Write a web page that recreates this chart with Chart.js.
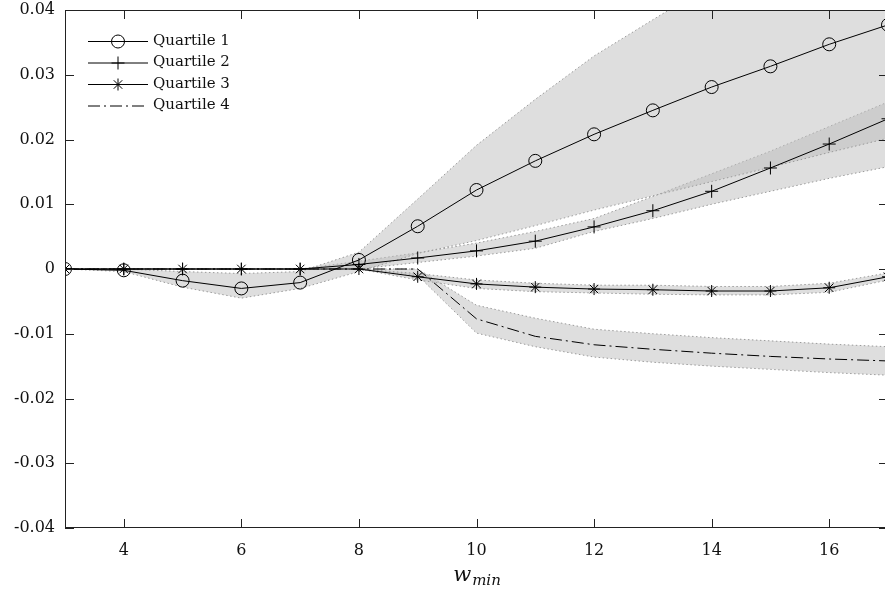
<!DOCTYPE html>
<html>
<head>
<meta charset="utf-8">
<script src="https://cdn.jsdelivr.net/npm/chart.js@4.4.1/dist/chart.umd.min.js"></script>
<style>
  html, body { margin: 0; padding: 0; background: #fff; overflow: hidden; }
</style>
</head>
<body>
<canvas id="c" width="888" height="589"></canvas>
<script>
/* w_min sweep: mean change per quartile with shaded ranges */
var wMin = [3, 4, 5, 6, 7, 8, 9, 10, 11, 12, 13, 14, 15, 16, 17];
var xTicks = [4, 6, 8, 10, 12, 14, 16];
var yTicks = [-0.04, -0.03, -0.02, -0.01, 0, 0.01, 0.02, 0.03, 0.04];
var labels = ["Quartile 1", "Quartile 2", "Quartile 3", "Quartile 4"];

var q1   = [0, -0.0002, -0.0018, -0.0030, -0.0021, 0.0014, 0.0066, 0.0122, 0.0167, 0.0208, 0.0245, 0.0281, 0.0313, 0.0347, 0.0377];
var q1Lo = [0, -0.0004, -0.0028, -0.0045, -0.0030, -0.0004, 0.0024, 0.0044, 0.0067, 0.0091, 0.0113, 0.0135, 0.0157, 0.0180, 0.0202];
var q1Hi = [0, 0, -0.0004, -0.0007, -0.0004, 0.0026, 0.0108, 0.0191, 0.0262, 0.0329, 0.0385, 0.0440, 0.0490, 0.0540, 0.0585];

var q2   = [0, 0, 0, 0, 0, 0.0007, 0.0017, 0.0028, 0.0043, 0.0065, 0.0090, 0.0120, 0.0156, 0.0193, 0.0232];
var q2Lo = [0, 0, 0, 0, 0, 0.0000, 0.0010, 0.0020, 0.0032, 0.0058, 0.0078, 0.0100, 0.0120, 0.0140, 0.0158];
var q2Hi = [0, 0, 0, 0, 0, 0.0012, 0.0025, 0.0040, 0.0058, 0.0078, 0.0112, 0.0147, 0.0182, 0.0220, 0.0258];

var q3   = [0, 0, 0, 0, 0, 0, -0.0012, -0.0023, -0.0028, -0.0031, -0.0032, -0.0034, -0.0034, -0.0029, -0.0012];
var q3Lo = [0, 0, 0, 0, 0, 0, -0.0017, -0.0030, -0.0035, -0.0037, -0.0039, -0.0040, -0.0040, -0.0036, -0.0017];
var q3Hi = [0, 0, 0, 0, 0, 0, -0.0007, -0.0017, -0.0022, -0.0025, -0.0025, -0.0027, -0.0027, -0.0022, -0.0006];

var q4   = [0, 0, 0, 0, 0, 0, 0, -0.0077, -0.0104, -0.0117, -0.0124, -0.0130, -0.0135, -0.0139, -0.0142];
var q4Lo = [0, 0, 0, 0, 0, 0, -0.0010, -0.0099, -0.0120, -0.0136, -0.0144, -0.0150, -0.0155, -0.0160, -0.0164];
var q4Hi = [0, 0, 0, 0, 0, 0, 0.0000, -0.0056, -0.0076, -0.0093, -0.0100, -0.0106, -0.0111, -0.0116, -0.0120];

var serif = "'DejaVu Serif', serif";

function xy(ys) {
  return ys.map(function (v, i) {
    return { x: wMin[i], y: v };
  });
}

function band(lo, hi) {
  var edge = {
    type: "line",
    borderColor: "#9a9a9a",
    borderWidth: 1,
    borderDash: [1.5, 2.5],
    pointRadius: 0,
    tension: 0,
    order: 1
  };
  return [
    Object.assign({}, edge, { data: xy(lo), fill: false }),
    Object.assign({}, edge, { data: xy(hi), fill: "-1", backgroundColor: "rgba(190,190,190,0.5)" })
  ];
}

function series(label, ys, style, radius, dash) {
  return {
    type: "line",
    label: label,
    data: xy(ys),
    borderColor: "#000",
    borderWidth: 1,
    borderDash: dash || [],
    pointStyle: style,
    pointRadius: radius,
    pointBorderColor: "#000",
    pointBackgroundColor: "rgba(0,0,0,0)",
    pointBorderWidth: 1,
    fill: false,
    tension: 0,
    order: 0
  };
}

var lines = [
  series(labels[0], q1, "circle", 6.5),
  series(labels[1], q2, "cross", 6.5),
  series(labels[2], q3, "star", 6),
  series(labels[3], q4, false, 0, [12, 4, 2, 4])
];

var frame = {
  id: "frame",
  afterDraw: function (chart) {
    var ctx = chart.ctx, a = chart.chartArea;
    var xs = chart.scales.x, ys = chart.scales.y;
    ctx.save();
    ctx.strokeStyle = "#222";
    ctx.lineWidth = 1;
    ctx.strokeRect(a.left + 0.5, a.top + 0.5, a.right - a.left - 1, a.bottom - a.top - 1);
    ctx.beginPath();
    xs.ticks.forEach(function (t) {
      var px = Math.round(xs.getPixelForValue(t.value)) + 0.5;
      ctx.moveTo(px, a.bottom); ctx.lineTo(px, a.bottom - 9);
      ctx.moveTo(px, a.top); ctx.lineTo(px, a.top + 9);
    });
    ys.ticks.forEach(function (t) {
      var py = Math.round(ys.getPixelForValue(t.value)) + 0.5;
      ctx.moveTo(a.left, py); ctx.lineTo(a.left + 9, py);
      ctx.moveTo(a.right, py); ctx.lineTo(a.right - 9, py);
    });
    ctx.stroke();

    // legend, top left inside the frame
    var lx = a.left + 23, ly = a.top + 31, step = 21.5;
    lines.forEach(function (ds, i) {
      var y = ly + i * step;
      ctx.strokeStyle = "#000";
      ctx.setLineDash(ds.borderDash);
      ctx.beginPath();
      ctx.moveTo(lx, y + 0.5); ctx.lineTo(lx + 60, y + 0.5);
      ctx.stroke();
      ctx.setLineDash([]);
      if (ds.pointStyle) {
        ctx.fillStyle = "rgba(0,0,0,0)";
        Chart.helpers.drawPoint(ctx, {
          pointStyle: ds.pointStyle, radius: ds.pointRadius, rotation: 0, borderWidth: 1
        }, lx + 30, y + 0.5);
      }
      ctx.fillStyle = "#111";
      ctx.font = "15px " + serif;
      ctx.textBaseline = "middle";
      ctx.textAlign = "left";
      ctx.fillText(ds.label, lx + 65, y);
    });

    // x axis title w_min
    var cx = xs.getPixelForValue(10);
    ctx.textBaseline = "alphabetic";
    ctx.font = "italic 21px " + serif;
    var w1 = ctx.measureText("w").width;
    ctx.font = "italic 15px " + serif;
    var w2 = ctx.measureText("min").width;
    var x0 = cx - (w1 + w2) / 2;
    ctx.font = "italic 21px " + serif;
    ctx.fillText("w", x0, 581);
    ctx.font = "italic 15px " + serif;
    ctx.fillText("min", x0 + w1 + 1, 585);
    ctx.restore();
  }
};

var datasets = lines
  .concat(band(q1Lo, q1Hi))
  .concat(band(q2Lo, q2Hi))
  .concat(band(q3Lo, q3Hi))
  .concat(band(q4Lo, q4Hi));

new Chart(document.getElementById("c").getContext("2d"), {
  type: "line",
  data: { datasets: datasets },
  options: {
    responsive: false,
    animation: false,
    devicePixelRatio: 1,
    layout: { autoPadding: false, padding: { top: 10, right: 0, left: 0, bottom: 0 } },
    plugins: {
      legend: { display: false },
      tooltip: { enabled: false }
    },
    scales: {
      x: {
        type: "linear",
        min: 3,
        max: 17,
        afterBuildTicks: function (s) {
          s.ticks = xTicks.map(function (v) { return { value: v }; });
        },
        afterFit: function (s) {
          s.height = 61;
          s.paddingLeft = 0;
          s.paddingRight = 0;
        },
        grid: { display: false, drawTicks: false },
        border: { display: false },
        ticks: {
          color: "#111",
          font: { family: serif, size: 16 },
          padding: 13,
          maxRotation: 0
        }
      },
      y: {
        type: "linear",
        min: -0.04,
        max: 0.04,
        afterBuildTicks: function (s) {
          s.ticks = yTicks.map(function (v) { return { value: v }; });
        },
        afterFit: function (s) {
          s.width = 65;
          s.paddingTop = 0;
          s.paddingBottom = 0;
        },
        grid: { display: false, drawTicks: false },
        border: { display: false },
        ticks: {
          color: "#111",
          font: { family: serif, size: 16 },
          padding: 10,
          callback: function (v) { return v === 0 ? "0" : v.toFixed(2); }
        }
      }
    }
  },
  plugins: [frame]
});
</script>
</body>
</html>
